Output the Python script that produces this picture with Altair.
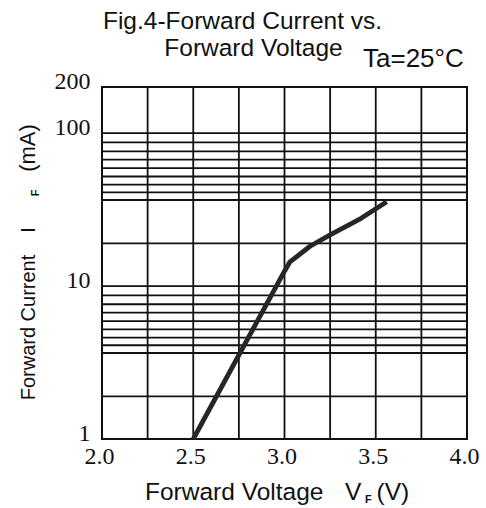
import altair as alt
import pandas as pd

# ---- data ----
VF = [2.5, 3.0, 3.03, 3.14, 3.25, 3.42, 3.56]          # forward voltage (V)
IF = [1.0, 12.5, 14.4, 18.2, 21.6, 27.7, 35.5]          # forward current (mA)

X_GRID = [2.0, 2.25, 2.5, 2.75, 3.0, 3.25, 3.5, 3.75, 4.0]
Y_GRID = [1, 1.9, 3.65, 4.1, 4.6, 5.2, 5.9, 6.7, 7.6, 8.7,
          10, 19, 36.5, 41, 46, 52, 59, 67, 76, 87, 100, 200]
X_TICKS = [2.0, 2.5, 3.0, 3.5, 4.0]
Y_TICKS = [1, 10, 100, 200]

TITLE_1 = "Fig.4-Forward Current vs."
TITLE_2 = "Forward Voltage"
CONDITION = "Ta=25°C"
X_TITLE = ["Forward Voltage", "V", "F", "(V)"]
Y_TITLE = ["Forward Current", "I", "F", "(mA)"]

curve = pd.DataFrame({"voltage": VF, "current": IF})
xg = pd.DataFrame({"x": X_GRID})
yg = pd.DataFrame({"y": Y_GRID})
one = pd.DataFrame({"k": [0]})

W, H = 365, 352
SANS = "Liberation Sans"
SERIF = "Liberation Serif"
INK = "#111111"

xscale = alt.Scale(domain=[2.0, 4.0], nice=False, zero=False)
yscale = alt.Scale(type="log", domain=[1, 200], nice=False)

xaxis = alt.Axis(values=X_TICKS, format=".1f", title=None, grid=False, domain=False,
                 ticks=False, tickSize=0, labelFont=SERIF, labelFontSize=24,
                 labelColor=INK, labelPadding=24, labelBaseline="alphabetic",
                 labelOffset=-3, labelFlush=False)
yaxis = alt.Axis(values=Y_TICKS, format="d", title=None, grid=False, domain=False,
                 ticks=False, tickSize=0, labelFont=SERIF, labelFontSize=24,
                 labelColor=INK, labelPadding=12, labelOffset=-6, labelFlush=False)

vgrid = alt.Chart(xg).mark_rule(color=INK, strokeWidth=1.8).encode(
    x=alt.X("x:Q", scale=xscale, axis=xaxis))
hgrid = alt.Chart(yg).mark_rule(color=INK, strokeWidth=1.8).encode(
    y=alt.Y("y:Q", scale=yscale, axis=yaxis))

line = alt.Chart(curve).mark_line(color="#262626", strokeWidth=4.8, strokeJoin="round").encode(
    x=alt.X("voltage:Q", scale=xscale),
    y=alt.Y("current:Q", scale=yscale),
    order=alt.Order("voltage:Q"))


def txt(s, x, y, size, font=SANS, align="left", angle=0, weight="normal"):
    return alt.Chart(one).mark_text(
        text=s, font=font, fontSize=size, align=align, baseline="alphabetic",
        angle=angle, color=INK, fontWeight=weight
    ).encode(x=alt.value(x), y=alt.value(y))


texts = [
    txt(TITLE_1, 140.5, -58, 24.5, align="center"),
    txt(TITLE_2, 151.5, -31, 24.5, align="center"),
    txt(CONDITION, 261, -20, 26),
    txt(X_TITLE[0], 43, 413, 24.5),
    txt(X_TITLE[1], 243, 413, 24.5),
    txt(X_TITLE[2], 263, 416, 11, weight="bold"),
    txt(X_TITLE[3], 274.5, 413, 24.5),
    txt(Y_TITLE[0], -67, 240.5, 20, align="center", angle=270),
    txt(Y_TITLE[1], -67, 143, 20, align="center", angle=270),
    txt(Y_TITLE[2], -63, 106, 11, align="center", angle=270, weight="bold"),
    txt(Y_TITLE[3], -67, 61, 22, align="center", angle=270),
]

chart = alt.layer(vgrid, hgrid, line, *texts).properties(
    width=W, height=H,
    autosize=alt.AutoSizeParams(type="none"),
    padding={"left": 102, "top": 87, "right": 19, "bottom": 69},
    background="white",
).configure_view(stroke=INK, strokeWidth=2)

chart.save("out.html", embed_options={"renderer": "svg", "actions": False})
